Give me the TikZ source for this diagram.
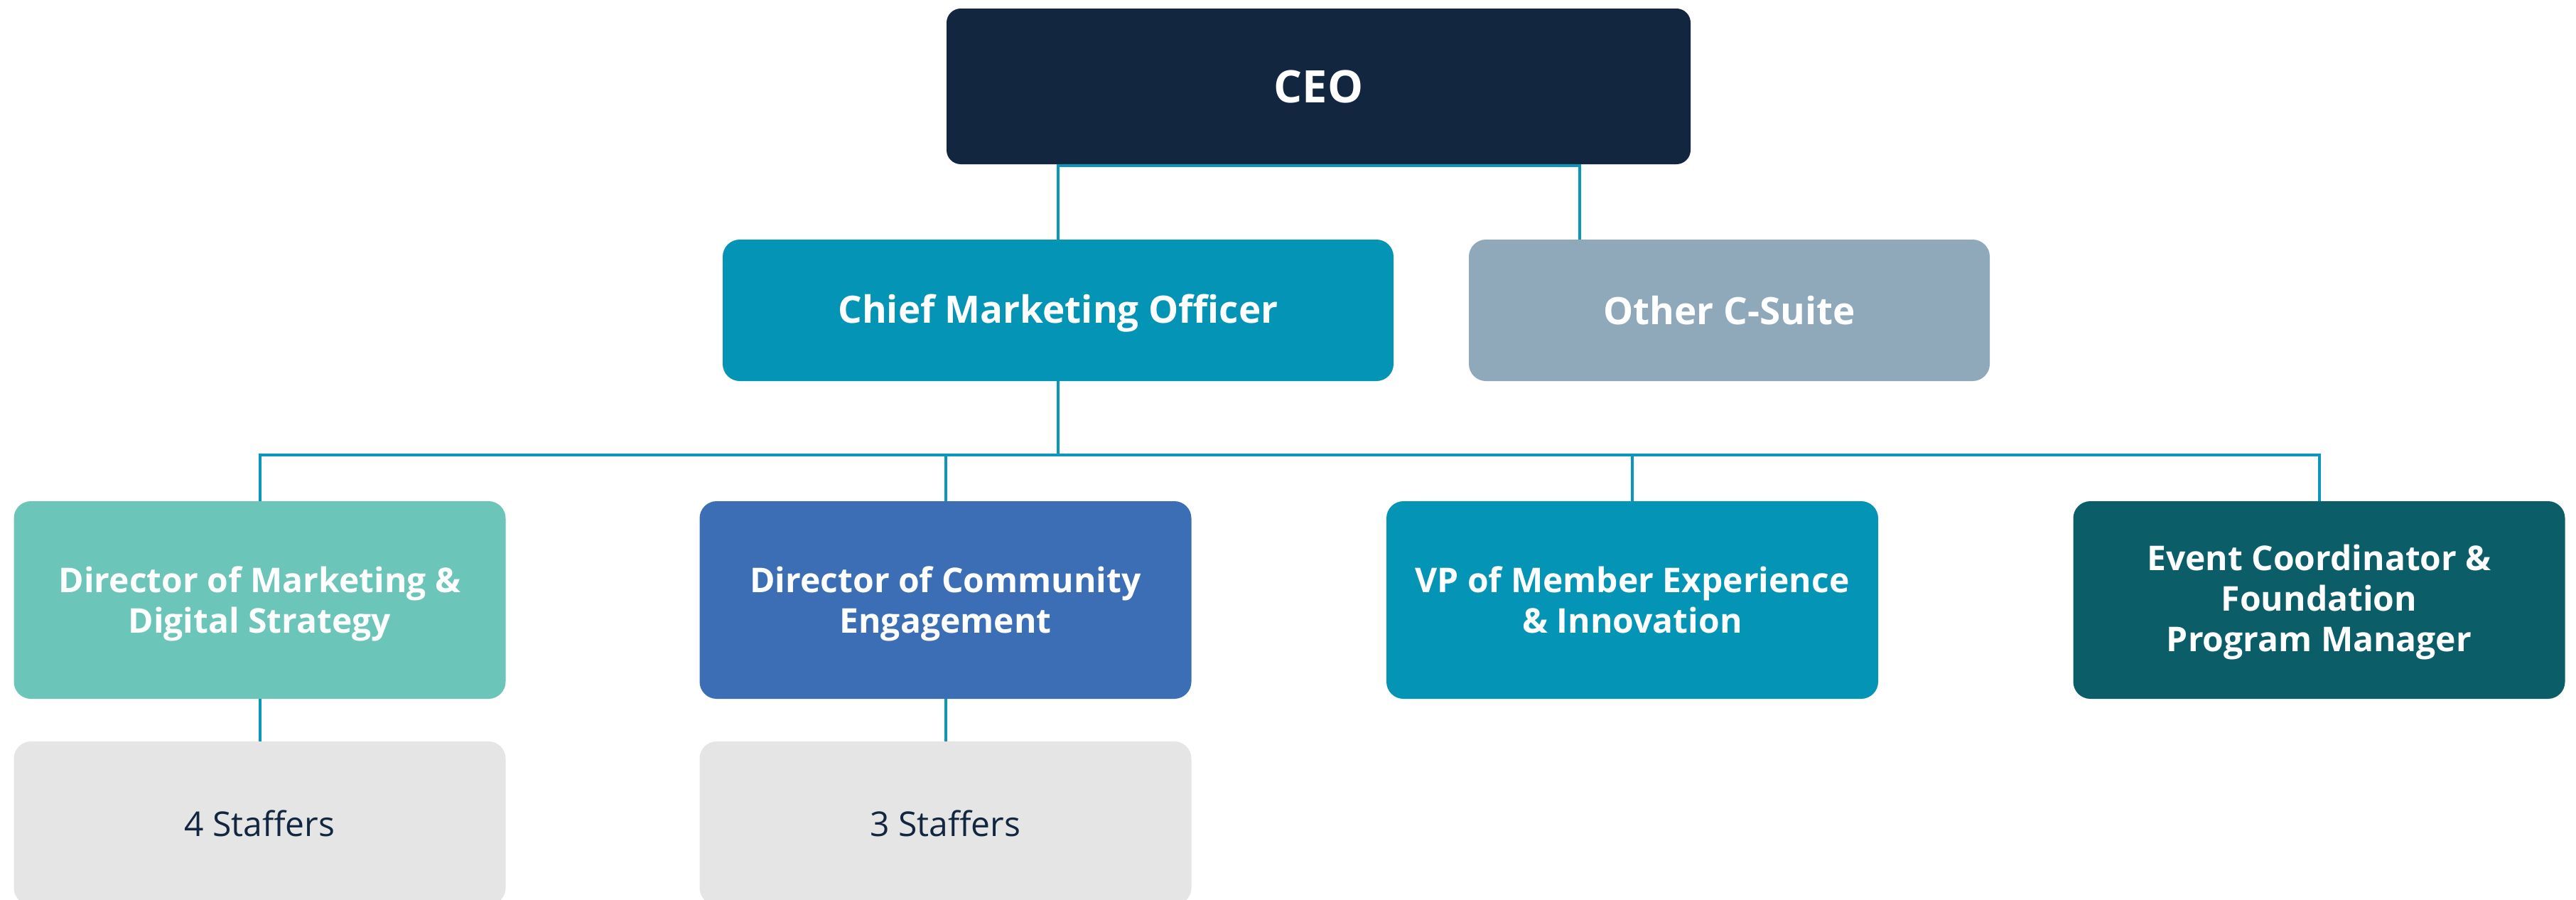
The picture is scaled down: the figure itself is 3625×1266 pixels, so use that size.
\documentclass[tikz,border=0pt]{standalone}
\usepackage{fontspec}
\setmainfont{Open Sans}
\definecolor{ceoC}{HTML}{122640}
\definecolor{tealC}{HTML}{0494B6}
\definecolor{greyblueC}{HTML}{8FA9BA}
\definecolor{mintC}{HTML}{6BC5B8}
\definecolor{blueC}{HTML}{3B6EB5}
\definecolor{darktealC}{HTML}{0B5E67}
\definecolor{staffC}{HTML}{E5E5E5}
\definecolor{lineC}{HTML}{0A97B9}
\newcommand{\lowerby}[2]{\raisebox{-#1}[\dimexpr\height+#1\relax][\dimexpr\depth+#1\relax]{\begin{tabular}{@{}c@{}}#2\end{tabular}}}
\begin{document}
\begin{tikzpicture}[x=1pt,y=-1pt,
  box/.style={rectangle, rounded corners=24pt, inner sep=0pt, align=center, text=white, font=\bfseries},
  top/.style={box, minimum width=1047pt, minimum height=219pt, fill=ceoC, font=\bfseries\fontsize{63}{75}\selectfont, rounded corners=20pt},
  second/.style={box, minimum height=199pt, font=\bfseries\fontsize{53}{63}\selectfont},
  third/.style={box, minimum width=692pt, minimum height=278pt, font=\bfseries\fontsize{48}{57}\selectfont},
  staff/.style={box, minimum width=692pt, minimum height=230pt, fill=staffC, text=ceoC, font=\fontsize{48}{58}\selectfont},
  conn/.style={draw=lineC, line width=4pt}]
\path[use as bounding box, fill=white] (0,0) rectangle (3625,1266);

\node[top] (ceo) at (1855.5,121.5) {CEO};
\node[second, fill=tealC, minimum width=944pt] (cmo) at (1489,436.5) {\lowerby{5pt}{Chief Marketing Officer}};
\node[second, fill=greyblueC, minimum width=733pt] (other) at (2433.5,436.5) {Other C-Suite};

\node[third, fill=mintC] (d1) at (365.5,844) {\lowerby{7pt}{Director of Marketing \&\\Digital Strategy}};
\node[third, fill=blueC] (d2) at (1330.5,844) {\lowerby{7pt}{Director of Community\\Engagement}};
\node[third, fill=tealC] (d3) at (2297,844) {VP of Member Experience\\\& Innovation};
\node[third, fill=darktealC] (d4) at (3263.5,844) {\lowerby{4pt}{Event Coordinator \&\\Foundation\\Program Manager}};

\node[staff] (s1) at (365.5,1158) {4 Staffers};
\node[staff] (s2) at (1330.5,1158) {3 Staffers};

\coordinate (ceoline) at ([yshift=-2pt]ceo.south);
\coordinate (oc) at ([xshift=-210.5pt]other.north);
\coordinate (bus) at (0,640);

\draw[conn] (cmo.north) -- (cmo.north |- ceoline) -- (oc |- ceoline) -- (oc);
\draw[conn] (cmo.south) -- (cmo.south |- bus);
\draw[conn] (d1.north) |- (d4.north |- bus) -- (d4.north);
\draw[conn] (d2.north) -- (d2.north |- bus);
\draw[conn] (d3.north) -- (d3.north |- bus);
\draw[conn] (d1.south) -- (s1.north);
\draw[conn] (d2.south) -- (s2.north);
\end{tikzpicture}
\end{document}
